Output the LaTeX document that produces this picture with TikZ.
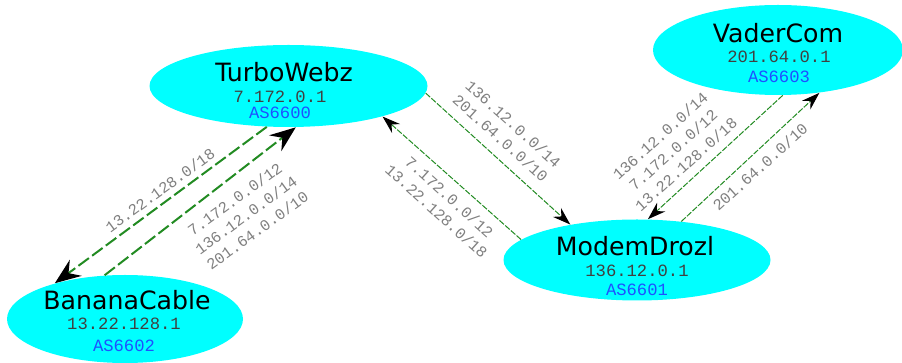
\documentclass[tikz,border=0pt]{standalone}
\usepackage{fontspec}
\setsansfont{DejaVu Sans}
\setmonofont{Liberation Mono}
\usetikzlibrary{shapes.geometric,arrows.meta}

\definecolor{routercyan}{RGB}{0,255,255}
\definecolor{linkgreen}{RGB}{34,139,34}
\definecolor{asblue}{RGB}{30,80,255}

\tikzset{
  router/.style={ellipse, fill=routercyan, draw=none, inner sep=0pt},
  asname/.style={font=\sffamily\fontsize{12.6}{14}\selectfont, anchor=base, inner sep=0pt},
  addr/.style={font=\ttfamily\fontsize{8.6}{10}\selectfont, text=black!75, anchor=base, inner sep=0pt},
  asnum/.style={font=\ttfamily\fontsize{8.6}{10}\selectfont, text=asblue, anchor=base, inner sep=0pt},
  pfxlabel/.style={font=\ttfamily\fontsize{7.8}{9.6}\selectfont, text=black!50, align=center, inner sep=0pt},
  thinlink/.style={draw=linkgreen, line width=0.5pt, dash pattern=on 3pt off 0.8pt,
    -{Stealth[black, length=9pt, width=6pt, inset=3pt]}},
  thicklink/.style={draw=linkgreen, line width=1pt, dash pattern=on 6.5pt off 2pt,
    -{Stealth[black, length=13pt, width=10pt, inset=4.5pt]}}
}

\begin{document}
\begin{tikzpicture}[x=0.5pt, y=-0.5pt]
        \useasboundingbox (0,0) rectangle (902,363);

        % Routers
        \node[router, minimum width=139pt, minimum height=41pt] (tw) at (288.5,86) {};
        \node[router, minimum width=125pt, minimum height=45pt] (vc) at (778,50) {};
        \node[router, minimum width=133.5pt, minimum height=40.5pt] (md) at (637,260) {};
        \node[router, minimum width=118pt, minimum height=44pt] (bc) at (125,319) {};

        % TurboWebz text
        \node[asname] (twname) at (284,82) {TurboWebz};
        \node[addr] (twaddr) at (280,103) {7.172.0.1};
        \node[asnum] (twas) at (280,119) {AS6600};

        % VaderCom text
        \node[asname] (vcname) at (778,43) {VaderCom};
        \node[addr] (vcaddr) at (779,63) {201.64.0.1};
        \node[asnum] (vcas) at (779,83) {AS6603};

        % ModemDrozl text
        \node[asname] (mdname) at (635,256) {ModemDrozl};
        \node[addr] (mdaddr) at (637,277) {136.12.0.1};
        \node[asnum] (mdas) at (637,296) {AS6601};

        % BananaCable text
        \node[asname] (bcname) at (127,310) {BananaCable};
        \node[addr] (bcaddr) at (124,330) {13.22.128.1};
        \node[asnum] (bcas) at (124,352) {AS6602};

        % TurboWebz <-> BananaCable
        \draw[thicklink] (tw.242) -- (bc.153);
        \draw[thicklink] (bc.115) -- (tw.-80);
        \node[pfxlabel, rotate=36] (p1) at (160,190) {13.22.128.0/18};
        \node[pfxlabel, rotate=36] (p2) at (246,215) {7.172.0.0/12\\136.12.0.0/14\\201.64.0.0/10};

        % TurboWebz <-> ModemDrozl
        \draw[thinlink] (tw.-3.5) -- (md.152);
        \draw[thinlink] (md.170) -- (tw.-18);
        \node[pfxlabel, rotate=-42] (p3) at (507,131) {136.12.0.0/14\\201.64.0.0/10};
        \node[pfxlabel, rotate=-42] (p4) at (443,204) {7.172.0.0/12\\13.22.128.0/18};

        % VaderCom <-> ModemDrozl
        \draw[thinlink] (vc.-84) -- (md.75);
        \draw[thinlink] (md.41) -- (vc.-46);
        \node[pfxlabel, rotate=42] (p5) at (673,150) {136.12.0.0/14\\7.172.0.0/12\\13.22.128.0/18};
        \node[pfxlabel, rotate=42] (p6) at (760,167) {201.64.0.0/10};
      \end{tikzpicture}
\end{document}
